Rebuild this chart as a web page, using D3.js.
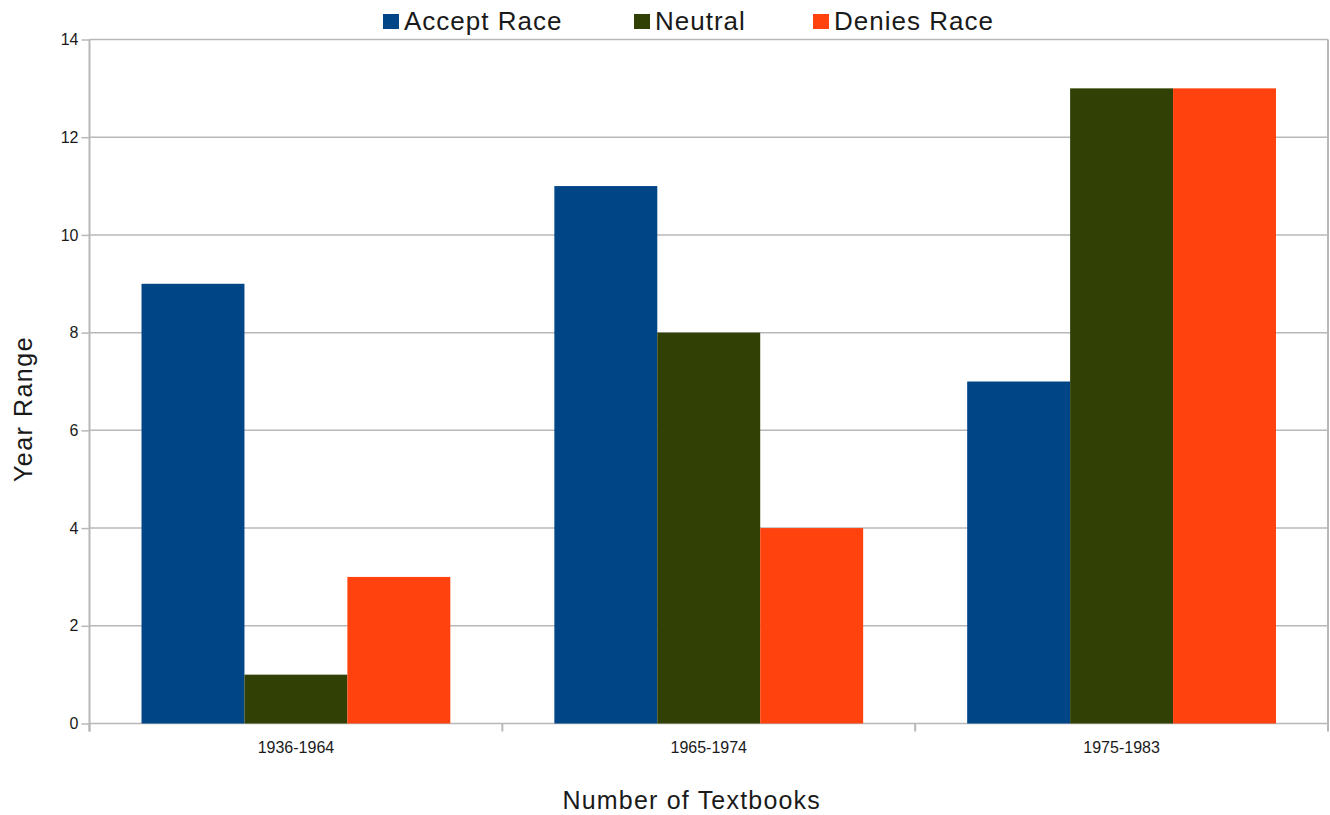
<!DOCTYPE html>
<html>
<head>
<meta charset="utf-8">
<script src="https://cdn.jsdelivr.net/npm/d3@7"></script>
<style>
  html, body { margin: 0; padding: 0; background: #fff; }
  svg { display: block; font-family: "Liberation Sans", Arial, sans-serif; }
</style>
</head>
<body>
<svg id="chart" width="1330" height="815"></svg>
<script>
// Textbook stance on race, by period
const categories = ["1936-1964", "1965-1974", "1975-1983"];
const seriesNames = ["Accept Race", "Neutral", "Denies Race"];
const acceptRace = [9, 11, 7];
const neutral = [1, 8, 13];
const deniesRace = [3, 4, 13];
const seriesColors = ["#004586", "#314004", "#ff420e"];
const yTicks = [0, 2, 4, 6, 8, 10, 12, 14];

const seriesValues = [acceptRace, neutral, deniesRace];
const rows = categories.map((c, i) => ({
  category: c,
  values: seriesNames.map((s, j) => ({ series: s, value: seriesValues[j][i], color: seriesColors[j] }))
}));

const svg = d3.select("#chart");
const plot = { left: 89.5, right: 1328, top: 39.5, bottom: 723.5 };
const gridColor = "#b8b8b8";
const textColor = "#1a1a1a";

const x = d3.scaleBand().domain(categories).range([plot.left, plot.right]).padding(0);
const bw = x.bandwidth();
const xInner = d3.scaleBand().domain(seriesNames).range([bw * 0.126, bw * 0.874]).padding(0);
const y = d3.scaleLinear().domain([0, 14]).range([plot.bottom, plot.top]);

// horizontal gridlines
svg.append("g")
  .selectAll("line")
  .data(yTicks)
  .join("line")
  .attr("x1", plot.left).attr("x2", plot.right)
  .attr("y1", d => y(d)).attr("y2", d => y(d))
  .attr("stroke", gridColor).attr("stroke-width", 1.5);

// right border
svg.append("line")
  .attr("x1", plot.right).attr("x2", plot.right)
  .attr("y1", plot.top).attr("y2", plot.bottom + 7)
  .attr("stroke", gridColor).attr("stroke-width", 2);

// bars
const groups = svg.append("g")
  .selectAll("g")
  .data(rows)
  .join("g")
  .attr("transform", d => `translate(${x(d.category)},0)`);

groups.selectAll("rect")
  .data(d => d.values)
  .join("rect")
  .attr("x", d => xInner(d.series))
  .attr("width", xInner.bandwidth())
  .attr("y", d => y(d.value))
  .attr("height", d => y(0) - y(d.value))
  .attr("fill", d => d.color);

// y axis
const yAxis = d3.axisLeft(y).tickValues(yTicks).tickSize(8).tickPadding(3).tickFormat(d3.format("d"));
const gy = svg.append("g").attr("transform", `translate(${plot.left},0)`).call(yAxis);
gy.select(".domain").remove();
gy.selectAll(".tick line").attr("stroke", gridColor).attr("stroke-width", 1.5);
gy.selectAll(".tick text").attr("font-size", 16).attr("fill", textColor)
  .attr("font-family", "'Liberation Sans', Arial, sans-serif");
svg.append("line")
  .attr("x1", plot.left).attr("x2", plot.left)
  .attr("y1", plot.top).attr("y2", plot.bottom + 8)
  .attr("stroke", gridColor).attr("stroke-width", 2);

// x axis: ticks at category boundaries, labels centred
const gx = svg.append("g").attr("transform", `translate(0,${plot.bottom})`);
gx.selectAll("line.bound")
  .data(categories.map(c => x(c)).concat([plot.right]))
  .join("line")
  .attr("class", "bound")
  .attr("x1", d => d).attr("x2", d => d)
  .attr("y1", 0).attr("y2", 8)
  .attr("stroke", gridColor).attr("stroke-width", 2);
gx.selectAll("text")
  .data(categories)
  .join("text")
  .attr("x", d => x(d) + bw / 2)
  .attr("y", 29)
  .attr("text-anchor", "middle")
  .attr("font-size", 16)
  .attr("fill", textColor)
  .text(d => d);

// axis titles
svg.append("text")
  .attr("x", (plot.left + plot.right) / 2 - 17)
  .attr("y", 809)
  .attr("text-anchor", "middle")
  .attr("font-size", 25)
  .attr("letter-spacing", 1.2)
  .attr("fill", textColor)
  .text("Number of Textbooks");

svg.append("text")
  .attr("transform", `translate(32,${409}) rotate(-90)`)
  .attr("text-anchor", "middle")
  .attr("font-size", 25)
  .attr("letter-spacing", 1.5)
  .attr("fill", textColor)
  .text("Year Range");

// legend
const legendX = [383, 634, 813];
const legend = svg.append("g")
  .selectAll("g")
  .data(seriesNames)
  .join("g")
  .attr("transform", (d, i) => `translate(${legendX[i]},0)`);
legend.append("rect")
  .attr("x", 0).attr("y", 14)
  .attr("width", 16).attr("height", 15)
  .attr("fill", (d, i) => seriesColors[i]);
legend.append("text")
  .attr("x", 21).attr("y", 30)
  .attr("font-size", 26)
  .attr("letter-spacing", 1)
  .attr("fill", textColor)
  .text(d => d);
</script>
</body>
</html>
